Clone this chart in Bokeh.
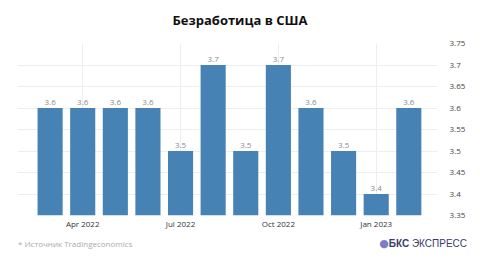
from bokeh.plotting import figure
from bokeh.models import Range1d, FixedTicker, ColumnDataSource, Div
from bokeh.layouts import column
from bokeh.embed import file_html
from bokeh.resources import INLINE

months = ["Mar 2022", "Apr 2022", "May 2022", "Jun 2022", "Jul 2022", "Aug 2022",
          "Sep 2022", "Oct 2022", "Nov 2022", "Dec 2022", "Jan 2023", "Feb 2023"]
values = [3.6, 3.6, 3.6, 3.6, 3.5, 3.7, 3.5, 3.7, 3.6, 3.5, 3.4, 3.6]
tick_labels = {1: "Apr 2022", 4: "Jul 2022", 7: "Oct 2022", 10: "Jan 2023"}
y_ticks = [3.35, 3.4, 3.45, 3.5, 3.55, 3.6, 3.65, 3.7, 3.75]
title_text = "Безработица в США"
source_text = "* Источник Tradingeconomics"

FONT = "Open Sans"
xs = list(range(len(months)))
src = ColumnDataSource(dict(x=xs, top=values, lbl=[f"{v:.1f}" for v in values]))

title = Div(text=title_text, width=480, height=35, margin=0,
            styles={"width": "480px", "text-align": "center", "padding-top": "11px",
                    "font-family": FONT, "font-size": "13px", "font-weight": "bold",
                    "color": "#111111", "line-height": "18px"})

p = figure(width=480, height=197, output_backend="svg", toolbar_location=None,
           x_range=Range1d(-1, 11.88), y_range=Range1d(3.35, 3.75),
           y_axis_location="right", margin=0,
           min_border_left=17, min_border_right=43, min_border_top=8, min_border_bottom=17)
p.background_fill_color = "white"
p.border_fill_color = "white"
p.outline_line_color = None

p.vbar(x="x", top="top", bottom=3.35, width=0.77, source=src,
       fill_color="#4682b4", line_color=None)
p.text(x="x", y="top", text="lbl", source=src, text_align="center",
       text_baseline="bottom", y_offset=-3, text_font_size="8px",
       text_color="#8a8a8a", text_font={"value": FONT})

p.xaxis.ticker = FixedTicker(ticks=list(tick_labels.keys()))
p.xaxis.major_label_overrides = tick_labels
p.yaxis.ticker = FixedTicker(ticks=y_ticks)
p.yaxis.major_label_overrides = {t: f"{t:.2f}".rstrip("0").rstrip(".") for t in y_ticks}
for ax in (p.xaxis[0], p.yaxis[0]):
    ax.axis_line_color = None
    ax.major_tick_line_color = None
    ax.minor_tick_line_color = None
    ax.major_tick_out = 0
    ax.major_tick_in = 0
    ax.minor_tick_out = 0
    ax.major_label_text_font = FONT
    ax.major_label_text_font_size = "8px"
p.xaxis.major_label_text_color = "#333333"
p.yaxis.major_label_text_color = "#444444"
p.xaxis.major_label_standoff = 2
p.yaxis.major_label_standoff = 12

p.xgrid.grid_line_color = "#eeeeee"
p.ygrid.grid_line_color = "#eeeeee"

footer_html = (
    f'<div style="position:relative;width:480px;height:29px;">'
    f'<span style="position:absolute;left:18px;top:6px;font-family:\'{FONT}\';font-size:8px;'
    f'color:#aaaaaa;line-height:12px;">{source_text}</span>'
    f'<span style="position:absolute;right:13px;top:5px;font-family:\'Liberation Sans\';'
    f'font-size:10px;color:#3a3a6a;line-height:14px;white-space:nowrap;">'
    f'<span style="color:#7a7fc8;font-family:\'DejaVu Sans\';font-size:11px;">●</span>'
    f'<b>БКС</b> ЭКСПРЕСС</span></div>'
)
footer = Div(text=footer_html, width=480, height=29, margin=0)

layout = column(title, p, footer, spacing=0, margin=0)
open("out.html", "w").write(file_html(layout, INLINE))
